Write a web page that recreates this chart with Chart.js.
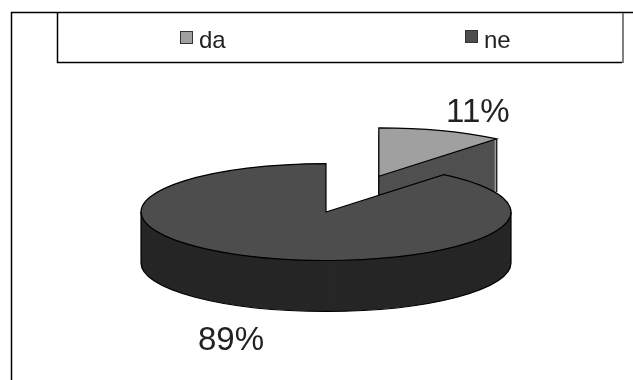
<!DOCTYPE html>
<html>
<head>
<meta charset="utf-8">
<style>
  html, body { margin: 0; padding: 0; background: #fff; }
  canvas { display: block; }
</style>
<script src="https://cdn.jsdelivr.net/npm/chart.js@4/dist/chart.umd.min.js"></script>
</head>
<body>
<canvas id="chart" width="633" height="380"></canvas>
<script>
const categories = ['da', 'ne'];
const shares = [11, 89];
const topColors = ['#a0a0a0', '#4d4d4d'];
const wallColors = ['#505050', '#262626'];

const TILT = 0.262;    // vertical squash of the pie's disc
const DEPTH = 51;      // height of the disc's wall in px
const SLICE_DEPTH = 53;
const PULL_X = 156;    // how far the 'da' slice is pulled out along its middle
const PULL_Y = 145;
const FONT = 'Arial, "Liberation Sans", sans-serif';

// traces one sector as a squashed wedge; path ends up in screen coordinates
function wedge(ctx, arc, shiftX, shiftY) {
  ctx.save();
  ctx.translate(arc.x + shiftX, arc.y + shiftY);
  ctx.scale(1, TILT);
  ctx.beginPath();
  ctx.moveTo(0, 0);
  ctx.arc(0, 0, arc.outerRadius, arc.startAngle, arc.endAngle);
  ctx.closePath();
  ctx.restore();
}

function pullOut(arc, index) {
  if (index !== 0) return { x: 0, y: 0 };
  const mid = (arc.startAngle + arc.endAngle) / 2;
  return { x: Math.cos(mid) * PULL_X, y: Math.sin(mid) * PULL_Y * TILT };
}

// pie controller that draws its arcs as a tilted disc with a wall
class TiltedPieController extends Chart.PieController {
  draw() {
    const ctx = this.chart.ctx;
    const arcs = this.getMeta().data;

    arcs.forEach((arc, i) => {
      const shift = pullOut(arc, i);
      ctx.fillStyle = wallColors[i];
      for (let d = i === 0 ? SLICE_DEPTH : DEPTH; d > 0; d--) {
        wedge(ctx, arc, shift.x, shift.y + d);
        ctx.fill();
      }
    });

    ctx.strokeStyle = '#000';
    ctx.lineWidth = 1.2;

    // edges of the pulled out slice's wall
    const first = arcs[0];
    const firstShift = pullOut(first, 0);
    const tipX = first.x + firstShift.x + Math.cos(first.endAngle) * first.outerRadius;
    const tipY = first.y + firstShift.y + Math.sin(first.endAngle) * first.outerRadius * TILT;
    ctx.beginPath();
    ctx.moveTo(tipX, tipY);
    ctx.lineTo(tipX, tipY + SLICE_DEPTH);
    ctx.moveTo(first.x + firstShift.x, first.y + firstShift.y);
    ctx.lineTo(first.x + firstShift.x, first.y + firstShift.y + SLICE_DEPTH);
    ctx.stroke();

    arcs.forEach((arc, i) => {
      const shift = pullOut(arc, i);
      wedge(ctx, arc, shift.x, shift.y);
      ctx.fillStyle = topColors[i];
      ctx.fill();
      ctx.stroke();
    });

    // bottom rim of the disc
    const disc = arcs[1];
    ctx.save();
    ctx.translate(disc.x, disc.y + DEPTH);
    ctx.scale(1, TILT);
    ctx.beginPath();
    ctx.arc(0, 0, disc.outerRadius, 0, Math.PI);
    ctx.restore();
    ctx.stroke();
    ctx.beginPath();
    ctx.moveTo(disc.x - disc.outerRadius, disc.y);
    ctx.lineTo(disc.x - disc.outerRadius, disc.y + DEPTH);
    ctx.moveTo(disc.x + disc.outerRadius, disc.y);
    ctx.lineTo(disc.x + disc.outerRadius, disc.y + DEPTH);
    ctx.stroke();
  }
}
TiltedPieController.id = 'tiltedPie';
TiltedPieController.defaults = Chart.PieController.defaults;
TiltedPieController.overrides = Chart.PieController.overrides;
Chart.register(TiltedPieController);

// outer frame, legend box and the percentage labels
const decorations = {
  id: 'decorations',
  afterDraw(chart) {
    const ctx = chart.ctx;
    ctx.save();
    ctx.strokeStyle = '#000';
    ctx.lineWidth = 1.5;
    ctx.beginPath();
    ctx.moveTo(11.5, 380);
    ctx.lineTo(11.5, 12.5);
    ctx.lineTo(633, 12.5);
    ctx.moveTo(57.5, 12.5);
    ctx.lineTo(57.5, 62.5);
    ctx.lineTo(622, 62.5);
    ctx.stroke();
    ctx.strokeStyle = '#808080';
    ctx.lineWidth = 2;
    ctx.beginPath();
    ctx.moveTo(623, 13);
    ctx.lineTo(623, 63);
    ctx.stroke();

    ctx.lineWidth = 1;
    ctx.textBaseline = 'alphabetic';
    ctx.textAlign = 'left';
    ctx.font = '24px ' + FONT;
    const swatchX = [180, 465];
    const swatchY = [31, 30];
    const nameX = [199, 484];
    categories.forEach((name, i) => {
      ctx.fillStyle = topColors[i];
      ctx.fillRect(swatchX[i], swatchY[i], 13, 13);
      ctx.strokeStyle = '#333';
      ctx.strokeRect(swatchX[i] + 0.5, swatchY[i] + 0.5, 12, 12);
      ctx.fillStyle = '#222';
      ctx.fillText(name, nameX[i], 48);
    });

    ctx.font = '33px ' + FONT;
    ctx.fillText(shares[0] + '%', 446, 122);
    ctx.fillText(shares[1] + '%', 198, 350);
    ctx.restore();
  }
};

new Chart(document.getElementById('chart'), {
  type: 'tiltedPie',
  data: {
    labels: categories,
    datasets: [{
      data: shares,
      backgroundColor: topColors,
      borderWidth: 0
    }]
  },
  options: {
    responsive: false,
    animation: false,
    radius: 185,
    layout: { padding: { left: 19, top: 44 } },
    plugins: {
      legend: { display: false },
      tooltip: { enabled: false }
    }
  },
  plugins: [decorations]
});
</script>
</body>
</html>
